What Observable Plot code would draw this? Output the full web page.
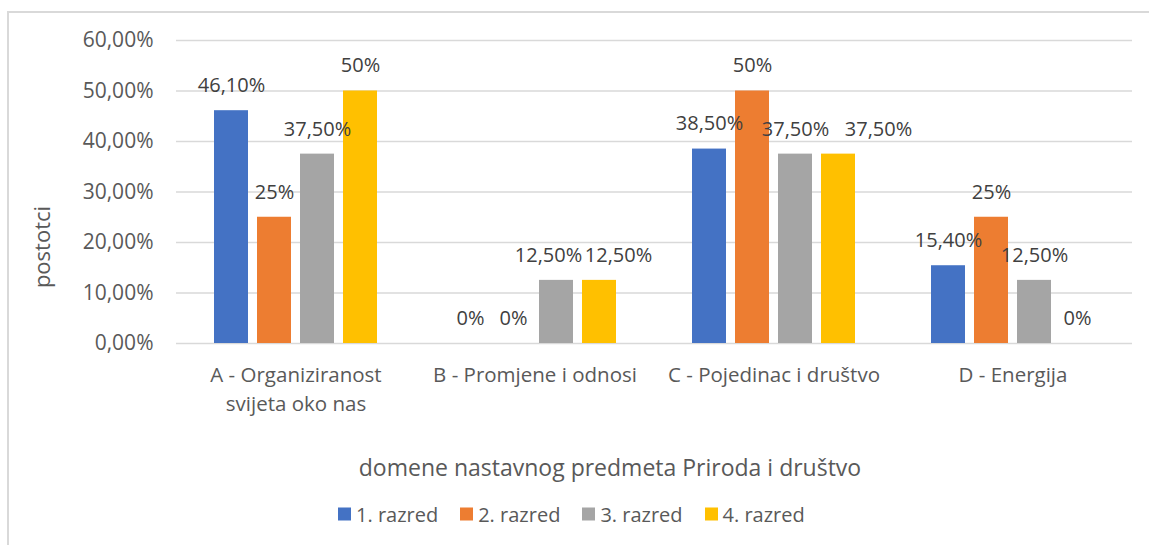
<!DOCTYPE html>
<html>
<head>
<meta charset="utf-8">
<script src="https://cdn.jsdelivr.net/npm/d3@7"></script>
<script src="https://cdn.jsdelivr.net/npm/@observablehq/plot@0.6"></script>
<style>
  html, body { margin: 0; padding: 0; background: #fff; }
  body { width: 1149px; height: 545px; position: relative; overflow: hidden; font-family: "Open Sans", sans-serif; color: #595959; }
  #frame { position: absolute; left: 7px; top: 11px; width: 1160px; height: 560px; border-left: 2px solid #d9d9d9; border-top: 2px solid #d9d9d9; box-sizing: border-box; }
  #chart { position: absolute; left: 0; top: 0; }
  #ytitle { position: absolute; left: 41px; top: 247px; transform: translate(-50%, -50%) rotate(-90deg); font-size: 22px; white-space: nowrap; }
  #xtitle { position: absolute; left: 610px; top: 467px; transform: translate(-50%, -50%); font-size: 23px; white-space: nowrap; }
  #legend { position: absolute; left: 338px; top: 514px; transform: translateY(-50%); display: flex; font-size: 20px; white-space: nowrap; }
  .item { display: flex; align-items: center; margin-right: 22px; }
  .sw { width: 13px; height: 13px; margin-right: 5px; }
</style>
</head>
<body>
<div id="frame"></div>
<div id="chart"></div>
<div id="ytitle">postotci</div>
<div id="xtitle">domene nastavnog predmeta Priroda i društvo</div>
<div id="legend"></div>
<script>
const categories = ["A - Organiziranost\nsvijeta oko nas", "B - Promjene i odnosi", "C - Pojedinac i društvo", "D - Energija"];
const series = ["1. razred", "2. razred", "3. razred", "4. razred"];
const colors = ["#4472C4", "#ED7D31", "#A5A5A5", "#FFC000"];
const razred1 = [46.1, 0, 38.5, 15.4];
const razred2 = [25, 0, 50, 25];
const razred3 = [37.5, 12.5, 37.5, 12.5];
const razred4 = [50, 12.5, 37.5, 0];
const labels1 = ["46,10%", "0%", "38,50%", "15,40%"];
const labels2 = ["25%", "0%", "50%", "25%"];
const labels3 = ["37,50%", "12,50%", "37,50%", "12,50%"];
const labels4 = ["50%", "12,50%", "37,50%", "0%"];
const yTicks = [0, 10, 20, 30, 40, 50, 60];

const values = [razred1, razred2, razred3, razred4];
const labels = [labels1, labels2, labels3, labels4];
const data = [];
categories.forEach((c, i) => series.forEach((s, j) => data.push({cat: c, ci: i, si: j, series: s, value: values[j][i], label: labels[j][i]})));

// labels that were nudged sideways in the original to avoid overlapping
const nudged = [
  {ci: 1, si: 2, dx: -8},
  {ci: 1, si: 3, dx: 19},
  {ci: 2, si: 3, dx: 40}
];
const isNudged = d => nudged.some(n => n.ci === d.ci && n.si === d.si);

const fontFamily = '"Open Sans", sans-serif';
const textOpts = {fx: "cat", x: "series", y: "value", text: "label", dy: -25, fontSize: 20, fill: "#404040", lineAnchor: "middle"};
const chart = Plot.plot({
  width: 1149,
  height: 440,
  marginLeft: 176,
  marginRight: 17,
  marginTop: 40,
  marginBottom: 97,
  style: {fontFamily, color: "#595959", background: "transparent"},
  fx: {domain: categories, padding: 0, label: null},
  x: {domain: series, paddingInner: 0.215, paddingOuter: 0.87, axis: null},
  y: {domain: [0, 60], label: null},
  color: {domain: series, range: colors},
  marks: [
    Plot.gridY(yTicks, {stroke: "#d9d9d9", strokeOpacity: 1, strokeWidth: 1.5}),
    Plot.axisY(yTicks, {tickSize: 0, tickPadding: 23, fontSize: 21, fill: "#595959", label: null, tickFormat: d => d.toFixed(2).replace(".", ",") + "%"}),
    Plot.axisFx({anchor: "bottom", tickSize: 0, tickPadding: 19, fontSize: 20.5, lineHeight: 1.37, fill: "#595959", label: null}),
    Plot.barY(data, {fx: "cat", x: "series", y: "value", fill: "series"}),
    Plot.text(data, {...textOpts, filter: d => !isNudged(d)}),
    ...nudged.map(n => Plot.text(data, {...textOpts, dx: n.dx, filter: d => d.ci === n.ci && d.si === n.si}))
  ]
});
document.getElementById("chart").appendChild(chart);

const legend = d3.select("#legend");
series.forEach((s, i) => {
  const it = legend.append("div").attr("class", "item");
  it.append("div").attr("class", "sw").style("background", colors[i]);
  it.append("span").text(s);
});
</script>
</body>
</html>
